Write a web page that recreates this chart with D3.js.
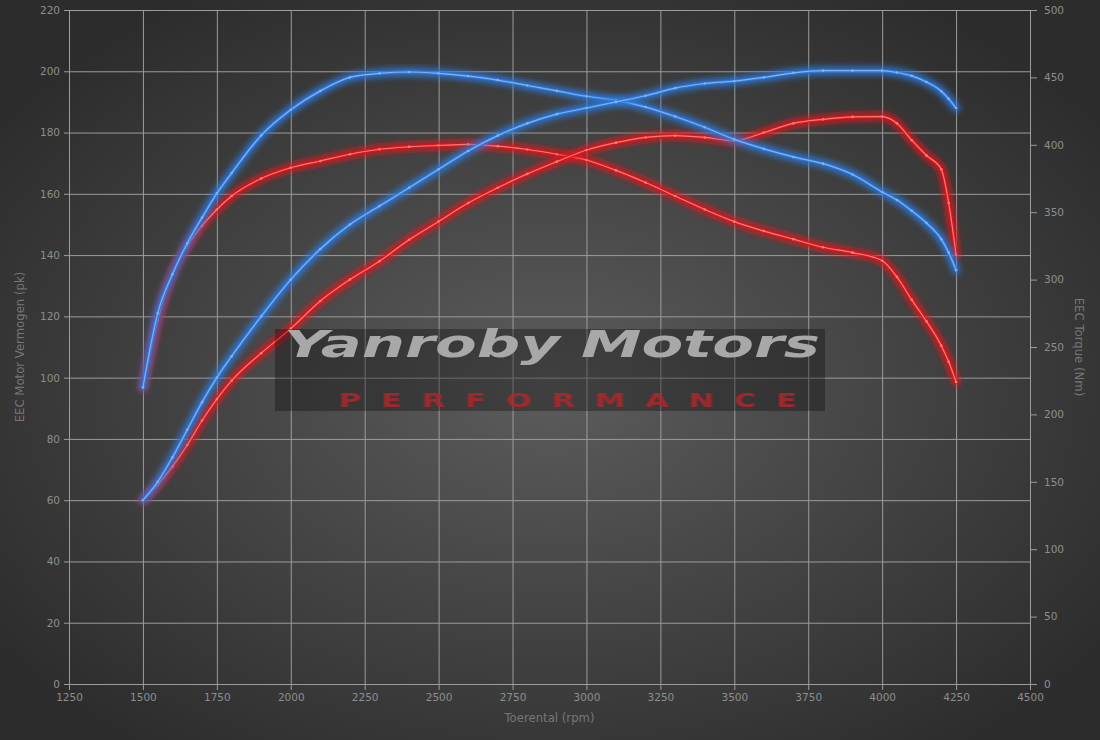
<!DOCTYPE html>
<html>
<head>
<meta charset="utf-8">
<script src="https://cdn.jsdelivr.net/npm/d3@7"></script>
<style>
  html, body { margin: 0; padding: 0; background: #2e2e2e; }
  svg { display: block; }
  .tick text { font-family: "DejaVu Sans", sans-serif; font-size: 10.5px; fill: #8e8e8e; }
  .axis-title { font-family: "DejaVu Sans", sans-serif; font-size: 11.7px; fill: #767676; }
</style>
</head>
<body>
<script>
// rpm grid shared by all four curves
var rpm = [1500, 1550, 1600, 1650, 1700, 1750, 1800, 1900, 2000, 2100, 2200, 2300, 2400, 2500,
  2600, 2700, 2800, 2900, 3000, 3100, 3200, 3300, 3400, 3500, 3600, 3700, 3800, 3900, 4000,
  4050, 4100, 4150, 4200, 4225, 4250];

// tuned (blue) and stock (red) power, pk
var powerTuned = [60, 66, 74, 83, 92, 100, 107, 120, 132, 142, 150, 156, 162, 168,
  174, 179, 183, 186, 188, 190, 192, 194.5, 196, 196.8, 198, 199.5, 200.2, 200.2, 200.2,
  199.6, 198.5, 196.5, 193.5, 191, 188];
var powerStock = [60, 65, 71, 78, 86, 93, 99, 108, 116, 125, 132, 138, 145, 151,
  157, 162, 166.5, 170.5, 174.3, 176.7, 178.4, 179, 178.4, 177.3, 180, 183, 184.3, 185.1, 185.2,
  183, 177.5, 172.5, 168, 157, 140];

// tuned (blue) and stock (red) torque, Nm
var torqueTuned = [220, 275, 304, 327, 346, 364, 379, 407, 426, 440, 450, 453, 454, 453,
  451, 448, 444, 440, 436, 433, 428, 421, 413, 404, 397, 391, 386, 378, 365,
  359, 351, 342, 330, 320, 307];
var torqueStock = [220, 270, 305, 325, 340, 352, 362, 375, 383, 388, 393, 396.7, 398.5, 399.5,
  400.3, 399, 396.5, 393, 388.7, 381, 372, 362, 352, 343, 336, 330, 324, 320, 314,
  302, 285, 269, 251, 239, 224];

var xTicks = [1250, 1500, 1750, 2000, 2250, 2500, 2750, 3000, 3250, 3500, 3750, 4000, 4250, 4500];
var leftTicks = [0, 20, 40, 60, 80, 100, 120, 140, 160, 180, 200, 220];
var rightTicks = [0, 50, 100, 150, 200, 250, 300, 350, 400, 450, 500];

var width = 1100, height = 740;
var margin = {top: 10, right: 70, bottom: 56, left: 69};
var plotW = width - margin.left - margin.right;
var plotH = height - margin.top - margin.bottom;

var svg = d3.select("body").append("svg")
  .attr("width", width)
  .attr("height", height);

var defs = svg.append("defs");
var bg = defs.append("radialGradient")
  .attr("id", "bg")
  .attr("cx", "50%").attr("cy", "52%").attr("r", "62%");
bg.append("stop").attr("offset", "0%").attr("stop-color", "#5c5c5c");
bg.append("stop").attr("offset", "100%").attr("stop-color", "#2c2c2c");

var glow = defs.append("filter").attr("id", "glow")
  .attr("x", "-10%").attr("y", "-10%").attr("width", "120%").attr("height", "120%");
glow.append("feGaussianBlur").attr("stdDeviation", 3);

var soft = defs.append("filter").attr("id", "soft");
soft.append("feGaussianBlur").attr("stdDeviation", 0.6);

svg.append("rect")
  .attr("width", width)
  .attr("height", height)
  .attr("fill", "url(#bg)");

var g = svg.append("g").attr("transform", "translate(" + margin.left + "," + margin.top + ")");

var x = d3.scaleLinear().domain([1250, 4500]).range([0, plotW]);
var yLeft = d3.scaleLinear().domain([0, 220]).range([plotH, 0]);
var yRight = d3.scaleLinear().domain([0, 500]).range([plotH, 0]);

// grid + axes
var gridColor = "#9c9c9c";

var xAxis = g.append("g")
  .attr("transform", "translate(0," + plotH + ")")
  .call(d3.axisBottom(x).tickValues(xTicks).tickSize(-plotH - 6).tickSizeOuter(0).tickPadding(-1).tickFormat(d3.format("d")));
xAxis.selectAll(".tick line").attr("stroke", gridColor).attr("transform", "translate(0,6)");
xAxis.selectAll(".tick text").attr("dy", "1.75em");

var yAxisL = g.append("g")
  .call(d3.axisLeft(yLeft).tickValues(leftTicks).tickSize(-plotW - 5).tickSizeOuter(0).tickPadding(-1));
yAxisL.selectAll(".tick line").attr("stroke", gridColor).attr("transform", "translate(-5,0)");
yAxisL.selectAll(".tick text").attr("x", -9);

var yAxisR = g.append("g")
  .attr("transform", "translate(" + plotW + ",0)")
  .call(d3.axisRight(yRight).tickValues(rightTicks).tickSize(7).tickSizeOuter(0).tickPadding(7));
yAxisR.selectAll(".tick line").attr("stroke", gridColor);

svg.selectAll(".domain").remove();

// axis titles
svg.append("text")
  .attr("class", "axis-title")
  .attr("text-anchor", "middle")
  .attr("transform", "translate(24," + (margin.top + plotH / 2) + ") rotate(-90)")
  .text("EEC Motor Vermogen (pk)");

svg.append("text")
  .attr("class", "axis-title")
  .attr("text-anchor", "middle")
  .attr("transform", "translate(1075," + (margin.top + plotH / 2) + ") rotate(90)")
  .text("EEC Torque (Nm)");

svg.append("text")
  .attr("class", "axis-title")
  .attr("text-anchor", "middle")
  .attr("x", margin.left + plotW / 2)
  .attr("y", 722)
  .text("Toerental (rpm)");

// curves
var series = [
  {name: "torqueStock", values: torqueStock, y: yRight, glow: "#e0161c", core: "#ff7a70"},
  {name: "powerStock", values: powerStock, y: yLeft, glow: "#e0161c", core: "#ff7a70"},
  {name: "torqueTuned", values: torqueTuned, y: yRight, glow: "#2d7be0", core: "#7db2f5"},
  {name: "powerTuned", values: powerTuned, y: yLeft, glow: "#2d7be0", core: "#7db2f5"}
];

series.forEach(function(s) {
  var pts = rpm.map(function(r, i) { return [r, s.values[i]]; });
  var line = d3.line()
    .x(function(d) { return x(d[0]); })
    .y(function(d) { return s.y(d[1]); })
    .curve(d3.curveMonotoneX);

  var sg = g.append("g").attr("class", s.name);
  sg.append("path")
    .datum(pts)
    .attr("d", line)
    .attr("fill", "none")
    .attr("stroke", s.glow)
    .attr("stroke-width", 8)
    .attr("stroke-opacity", 0.9)
    .attr("stroke-linecap", "round")
    .attr("filter", "url(#glow)");
  sg.append("path")
    .datum(pts)
    .attr("d", line)
    .attr("fill", "none")
    .attr("stroke", s.glow)
    .attr("stroke-width", 3)
    .attr("stroke-linecap", "round");
  sg.append("path")
    .datum(pts)
    .attr("d", line)
    .attr("fill", "none")
    .attr("stroke", s.core)
    .attr("stroke-width", 1.2)
    .attr("stroke-linecap", "round");
  sg.selectAll("circle")
    .data(pts)
    .enter().append("circle")
    .attr("cx", function(d) { return x(d[0]); })
    .attr("cy", function(d) { return s.y(d[1]); })
    .attr("r", 1.3)
    .attr("fill", s.core);
});

// watermark
var wm = svg.append("g");
wm.append("rect")
  .attr("x", 275).attr("y", 329)
  .attr("width", 550).attr("height", 82)
  .attr("fill", "#000").attr("fill-opacity", 0.3);
wm.append("text")
  .attr("x", 284).attr("y", 357)
  .attr("textLength", 536)
  .attr("lengthAdjust", "spacingAndGlyphs")
  .attr("font-family", "DejaVu Sans, sans-serif")
  .attr("font-size", 37)
  .attr("font-weight", "bold")
  .attr("font-style", "italic")
  .attr("fill", "#a8a8a8")
  .attr("filter", "url(#soft)")
  .text("Yanroby Motors");
wm.append("text")
  .attr("transform", "translate(339,407) scale(1.6,1)")
  .attr("textLength", 458 / 1.6)
  .attr("lengthAdjust", "spacing")
  .attr("font-family", "DejaVu Sans, sans-serif")
  .attr("font-size", 19)
  .attr("font-weight", "bold")
  .attr("fill", "#b3262c")
  .attr("fill-opacity", 0.85)
  .attr("filter", "url(#soft)")
  .text("PERFORMANCE");
</script>
</body>
</html>
